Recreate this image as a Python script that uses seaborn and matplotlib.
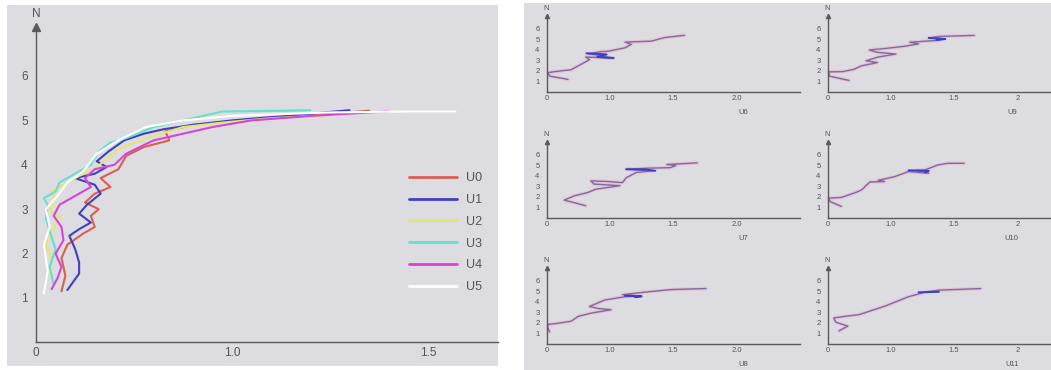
import numpy as np
import pandas as pd
import matplotlib
matplotlib.use('Agg')
import matplotlib.pyplot as plt
import seaborn as sns

W, H = 1051, 370
BG = '#dcdce1'
AXIS = '#5a5a5a'
TXT = '#555555'

# ---- big chart: velocity profiles U0..U5 (x = U, n = N) ----
big_series = ['U0', 'U1', 'U2', 'U3', 'U4', 'U5']
big_colors = ['#d9604f', '#4040c0', '#e6e672', '#66e0cc', '#d645d6', '#ffffff']

u0_x = [0.13, 0.15, 0.13, 0.16, 0.24, 0.30, 0.28, 0.32, 0.25, 0.30, 0.38, 0.33, 0.42, 0.46, 0.55, 0.68, 0.66, 0.80, 1.00, 1.15, 1.30, 1.35]
u0_n = [1.15, 1.50, 1.90, 2.20, 2.45, 2.60, 2.85, 3.00, 3.15, 3.35, 3.50, 3.70, 3.90, 4.20, 4.40, 4.55, 4.75, 4.90, 4.98, 5.08, 5.18, 5.22]

u1_x = [0.16, 0.22, 0.22, 0.20, 0.17, 0.22, 0.28, 0.22, 0.26, 0.33, 0.30, 0.20, 0.30, 0.36, 0.31, 0.37, 0.45, 0.55, 0.65, 0.80, 1.00, 1.20, 1.30]
u1_n = [1.18, 1.55, 1.80, 2.10, 2.40, 2.55, 2.70, 2.90, 3.10, 3.35, 3.55, 3.70, 3.80, 3.95, 4.08, 4.30, 4.55, 4.70, 4.80, 4.90, 5.00, 5.15, 5.23]

u2_x = [0.06, 0.08, 0.05, 0.08, 0.12, 0.07, 0.10, 0.08, 0.16, 0.22, 0.30, 0.35, 0.42, 0.50, 0.60, 0.75, 0.95, 1.10, 1.25]
u2_n = [1.50, 1.90, 2.20, 2.50, 2.80, 3.00, 3.20, 3.40, 3.60, 3.75, 3.90, 4.10, 4.35, 4.50, 4.65, 4.85, 4.95, 5.05, 5.12]

u3_x = [0.09, 0.07, 0.10, 0.07, 0.05, 0.06, 0.04, 0.10, 0.12, 0.20, 0.28, 0.32, 0.38, 0.46, 0.60, 0.75, 0.95, 1.15, 1.20]
u3_n = [1.30, 1.70, 2.10, 2.50, 2.80, 3.10, 3.25, 3.40, 3.60, 3.80, 4.00, 4.30, 4.50, 4.60, 4.85, 5.00, 5.20, 5.22, 5.23]

u4_x = [0.08, 0.11, 0.13, 0.10, 0.14, 0.13, 0.09, 0.12, 0.20, 0.28, 0.25, 0.30, 0.40, 0.46, 0.60, 0.75, 0.90, 1.05, 1.20, 1.35, 1.40]
u4_n = [1.20, 1.45, 1.70, 2.00, 2.30, 2.60, 2.85, 3.10, 3.30, 3.50, 3.70, 3.90, 4.00, 4.25, 4.55, 4.70, 4.85, 5.00, 5.10, 5.18, 5.20]

u5_x = [0.04, 0.06, 0.04, 0.07, 0.05, 0.11, 0.16, 0.24, 0.31, 0.42, 0.56, 0.75, 1.00, 1.25, 1.45, 1.57]
u5_n = [1.10, 1.60, 2.20, 2.60, 3.00, 3.30, 3.60, 3.85, 4.25, 4.55, 4.85, 5.00, 5.10, 5.18, 5.20, 5.20]

big_x = [u0_x, u1_x, u2_x, u3_x, u4_x, u5_x]
big_n = [u0_n, u1_n, u2_n, u3_n, u4_n, u5_n]

# ---- small charts U6..U11: main trace + blue overlay ----
small_names = ['U6', 'U7', 'U8', 'U9', 'U10', 'U11']

u6_x = [0.34, 0.05, 0.02, 0.24, 0.39, 0.53, 0.68, 0.62, 0.85, 1.03, 0.78, 0.66, 0.85, 0.98, 1.12, 1.17, 1.12, 1.33, 1.43, 1.59]
u6_n = [1.19, 1.50, 1.83, 2.00, 2.10, 2.56, 3.05, 3.30, 3.25, 3.20, 3.50, 3.60, 3.80, 3.85, 4.17, 4.50, 4.70, 4.80, 5.13, 5.35]
u6_bx = [0.63, 0.95, 0.80, 1.03]
u6_bn = [3.65, 3.55, 3.30, 3.20]

u7_x = [0.62, 0.28, 0.44, 0.65, 0.78, 1.08, 0.75, 0.70, 0.95, 1.10, 1.13, 1.21, 1.34, 1.13, 1.30, 1.48, 1.52, 1.45, 1.57, 1.69]
u7_n = [1.16, 1.69, 2.09, 2.40, 2.72, 3.05, 3.20, 3.50, 3.45, 3.34, 3.80, 4.30, 4.44, 4.60, 4.70, 4.75, 4.95, 5.05, 5.12, 5.20]
u7_bx = [1.13, 1.28, 1.36]
u7_bn = [4.60, 4.58, 4.45]

u8_x = [0.05, 0.02, 0.02, 0.16, 0.39, 0.50, 0.71, 1.01, 0.82, 0.68, 0.92, 1.12, 1.25, 1.10, 1.30, 1.49, 1.76]
u8_n = [1.14, 1.54, 1.85, 1.94, 2.15, 2.60, 2.92, 3.23, 3.35, 3.54, 4.15, 4.46, 4.52, 4.65, 4.92, 5.14, 5.23]
u8_bx = [1.12, 1.25, 1.20]
u8_bn = [4.55, 4.50, 4.42]

u9_x = [0.34, 0.03, 0.02, 0.24, 0.42, 0.53, 0.79, 0.61, 0.80, 1.04, 0.78, 0.66, 0.90, 1.10, 1.22, 1.15, 1.36, 1.42, 1.30, 1.38, 1.66]
u9_n = [1.09, 1.50, 1.90, 1.92, 2.14, 2.46, 2.78, 2.94, 3.30, 3.58, 3.75, 3.96, 4.10, 4.30, 4.54, 4.70, 4.86, 5.02, 5.10, 5.24, 5.34]
u9_bx = [1.30, 1.43, 1.36]
u9_bn = [5.10, 5.00, 4.90]

u10_x = [0.22, 0.04, 0.02, 0.22, 0.46, 0.54, 0.67, 0.90, 0.80, 1.03, 1.14, 1.30, 1.20, 1.27, 1.37, 1.45, 1.58]
u10_n = [1.09, 1.56, 1.88, 1.94, 2.44, 2.66, 3.40, 3.44, 3.55, 3.90, 4.38, 4.22, 4.50, 4.53, 5.00, 5.16, 5.16]
u10_bx = [1.14, 1.30, 1.27]
u10_bn = [4.50, 4.45, 4.30]

u11_x = [0.18, 0.32, 0.13, 0.10, 0.29, 0.50, 0.92, 1.14, 1.28, 1.38, 1.71]
u11_n = [1.23, 1.69, 2.06, 2.46, 2.62, 2.77, 3.60, 4.46, 4.92, 5.08, 5.23]
u11_bx = [1.22, 1.38]
u11_bn = [4.88, 4.92]

small_x = [u6_x, u7_x, u8_x, u9_x, u10_x, u11_x]
small_n = [u6_n, u7_n, u8_n, u9_n, u10_n, u11_n]
small_bx = [u6_bx, u7_bx, u8_bx, u9_bx, u10_bx, u11_bx]
small_bn = [u6_bn, u7_bn, u8_bn, u9_bn, u10_bn, u11_bn]


# axis is stretched above 1.0 (0..1.0 and 1.0..1.5 get the same width)
def fwd(x):
    x = np.asarray(x, dtype=float)
    return np.where(x <= 1, x, 2 * x - 1)


def inv(s):
    s = np.asarray(s, dtype=float)
    return np.where(s <= 1, s, (s + 1) / 2)


def px_axes(fig, x0, x1, ytop, ybot):
    return fig.add_axes([x0 / W, 1 - ybot / H, (x1 - x0) / W, (ybot - ytop) / H])


def setup_axis(ax, box, origin, kx, ky, ytop_val, fs):
    x0, x1, ytop, ybot = box
    ox, oy = origin
    ax.set_xscale('function', functions=(fwd, inv))
    ax.set_xlim(float(inv((x0 - ox) / kx)), float(inv((x1 - ox) / kx)))
    ax.set_ylim((oy - ybot) / ky, (oy - ytop) / ky)
    for s in ['top', 'right']:
        ax.spines[s].set_visible(False)
    ax.spines['left'].set_position(('data', 0))
    ax.spines['bottom'].set_position(('data', 0))
    ax.spines['left'].set_bounds(0, ytop_val)
    ax.spines['bottom'].set_bounds(0, ax.get_xlim()[1])
    for s in ['left', 'bottom']:
        ax.spines[s].set_color(AXIS)
        ax.spines[s].set_linewidth(1.0)
    ax.plot(0, ytop_val, marker='^', color=AXIS, markersize=fs * 0.6, clip_on=False)
    ax.set_xlabel('')
    ax.set_ylabel('')


sns.set_style('white')
plt.rcParams['font.family'] = ['Liberation Sans', 'DejaVu Sans']

fig = plt.figure(figsize=(W / 100, H / 100), dpi=100)
fig.patch.set_facecolor('white')

# ---------------- big chart ----------------
box = (7, 498, 5, 366)
ax = px_axes(fig, *box)
ax.set_facecolor(BG)

df_big = pd.concat([
    pd.DataFrame({'x': xs, 'N': ns, 'series': name})
    for name, xs, ns in zip(big_series, big_x, big_n)
], ignore_index=True)

sns.lineplot(data=df_big, x='x', y='N', hue='series', hue_order=big_series,
             palette=dict(zip(big_series, big_colors)), sort=False, estimator=None,
             linewidth=1.5, ax=ax)

setup_axis(ax, box, (36, 342.4), 196, 44.4, 7.1, 9)
ax.set_xticks([0, 1.0, 1.5])
ax.set_xticklabels(['0', '1.0', '1.5'])
ax.set_yticks([1, 2, 3, 4, 5, 6])
ax.set_yticklabels(['1', '2', '3', '4', '5', '6'])
ax.tick_params(axis='both', direction='in', length=4, width=0.8, color=AXIS,
               labelsize=8.5, labelcolor=TXT)
ax.tick_params(axis='y', pad=6)
ax.tick_params(axis='x', pad=3)
ax.text(0, 7.4, 'N', ha='center', va='center', fontsize=8.5, color=TXT)

handles, labels = ax.get_legend_handles_labels()
leg = ax.legend(handles, labels, loc='upper left', bbox_to_anchor=(403 / W, 1 - 166 / H),
                bbox_transform=fig.transFigure, frameon=False, fontsize=9,
                handlelength=3.8, handletextpad=0.7, labelspacing=0.78, borderpad=0)
for line in leg.get_lines():
    line.set_linewidth(2)
for t in leg.get_texts():
    t.set_color(TXT)

# ---------------- small charts ----------------
bg = px_axes(fig, 524, W, 3, H)
bg.set_facecolor(BG)
bg.set_xticks([])
bg.set_yticks([])
for s in bg.spines.values():
    s.set_visible(False)

cols = [(528, 800, 546.5), (806, W, 827.5)]
rows = [92, 218, 344]
tick_labels = [['0', '1.0', '1.5', '2.0'], ['0', '1.0', '1.5', '2']]
label_pos = [0.79, 0.84]

for i, name in enumerate(small_names):
    c, r = divmod(i, 3)
    x0, x1, ox = cols[c]
    oy = rows[r]
    sbox = (x0, x1, oy - 90, min(oy + 26, H))
    sax = px_axes(fig, *sbox)
    sax.patch.set_alpha(0)

    df_s = pd.DataFrame({'x': small_x[i], 'N': small_n[i]})
    df_b = pd.DataFrame({'x': small_bx[i], 'N': small_bn[i]})
    sns.lineplot(data=df_s, x='x', y='N', sort=False, estimator=None,
                 color='#f2a6cc', linewidth=2.6, alpha=0.45, ax=sax)
    sns.lineplot(data=df_s, x='x', y='N', sort=False, estimator=None,
                 color='#7d6c9c', linewidth=1.0, ax=sax)
    sns.lineplot(data=df_b, x='x', y='N', sort=False, estimator=None,
                 color='#3c3cd0', linewidth=1.4, ax=sax)

    setup_axis(sax, sbox, (ox, oy), 63.3, 10.6, 7.2, 5)
    sax.set_xticks([0, 1.0, 1.5, 2.0])
    sax.set_xticklabels(tick_labels[c])
    sax.set_yticks([1, 2, 3, 4, 5, 6])
    sax.set_yticklabels(['1', '2', '3', '4', '5', '6'])
    sax.tick_params(axis='both', direction='in', length=2.5, width=0.6, color=AXIS,
                    labelsize=5.5, labelcolor=TXT, pad=2)
    sax.tick_params(axis='y', pad=5)
    sax.text(0, 7.9, 'N', ha='center', va='center', fontsize=5.5, color=TXT)
    sax.text(label_pos[c], 0.05, name, transform=sax.transAxes, ha='center',
             va='center', fontsize=5.5, color=TXT)

fig.savefig('out.png', dpi=100, facecolor='white')
